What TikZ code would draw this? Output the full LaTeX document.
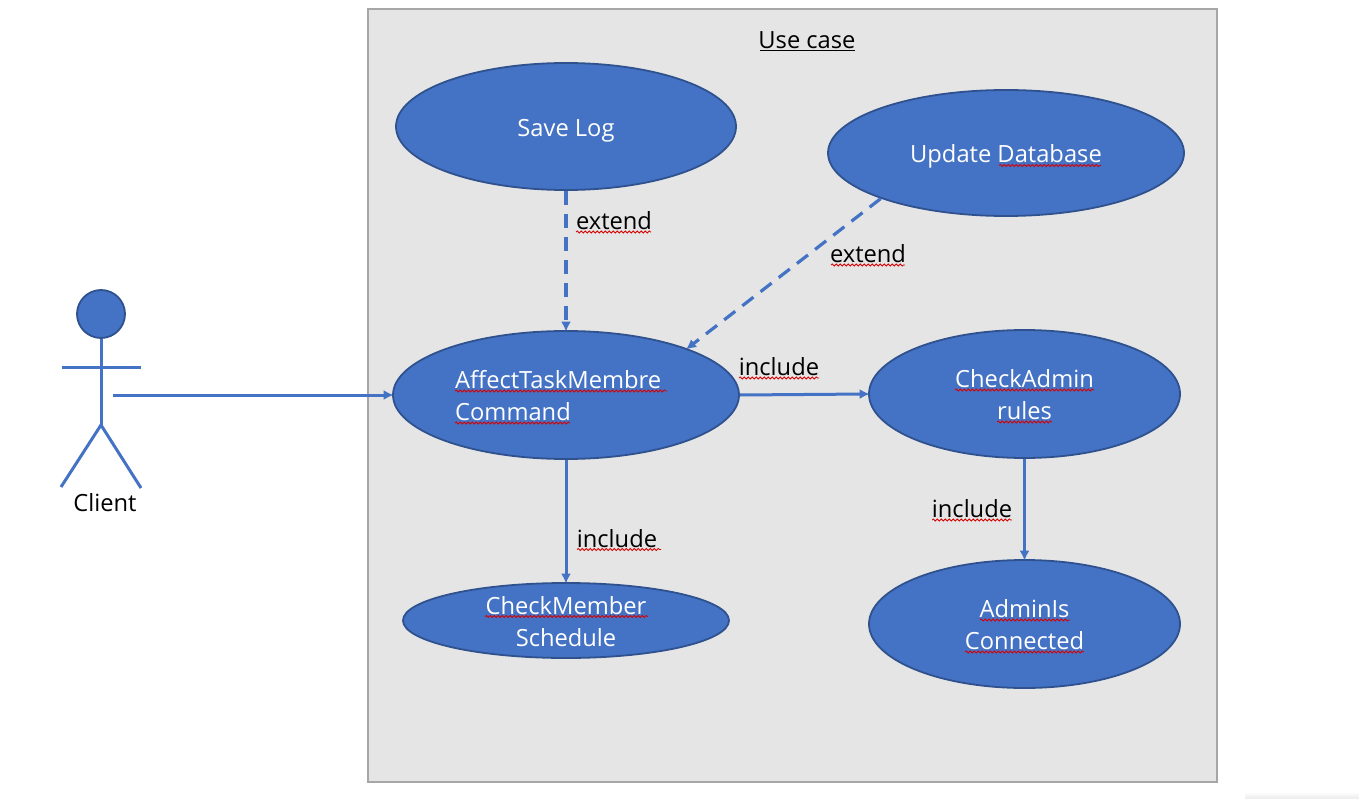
\documentclass[tikz,border=0pt]{standalone}
\usepackage{fontspec}
\setmainfont{Open Sans}
\usetikzlibrary{shapes.geometric,arrows.meta,decorations.pathmorphing}
\definecolor{ublue}{HTML}{4472C4}
\definecolor{uedge}{HTML}{2F528F}
\definecolor{upanel}{HTML}{E5E5E5}
\definecolor{uborder}{HTML}{A6A6A6}
\tikzset{
  usecase/.style={ellipse,draw=uedge,line width=1.8pt,fill=ublue,inner sep=0pt},
  inlabel/.style={text=white,font=\fontsize{23.7}{32}\selectfont,align=center,inner sep=0pt},
  lefttext/.style={inlabel,align=left},
  outlabel/.style={text=black,font=\fontsize{23.7}{32}\selectfont,inner sep=0pt},
  conn/.style={ublue,line width=3pt,shorten >=-1.5pt,-{Latex[length=10pt,width=10pt]}},
  dconn/.style={conn,line width=3.2pt,dash pattern=on 14pt off 9pt},
  limb/.style={ublue,line width=3pt},
  spell/.style={draw=red!85!black,line width=0.8pt,decorate,decoration={snake,amplitude=1pt,segment length=4pt}}
}
\begin{document}
\begin{tikzpicture}[x=1pt,y=-1pt]
\useasboundingbox (0,0) rectangle (1359,799);
\shade[top color=white,bottom color=black!8] (1245,792) rectangle (1359,799);
\node[draw=uborder,line width=2.2pt,fill=upanel,minimum width=849pt,minimum height=773pt,inner sep=0pt] (panel) at (792.5,395.5) {};
\node[outlabel] (uc) at (807,40) {Use case};
\draw[black,line width=1.8pt] (760,50.5) -- (855,50.5);
% use cases
\node[usecase,minimum width=340pt,minimum height=127pt] (save) at (566,126.5) {};
\node[usecase,minimum width=356pt,minimum height=126pt] (upd) at (1006,153) {};
\node[usecase,minimum width=346pt,minimum height=128pt] (aff) at (566,395) {};
\node[usecase,minimum width=311pt,minimum height=128pt] (adm) at (1024.5,394) {};
\node[usecase,minimum width=326pt,minimum height=75pt] (mem) at (566,620.5) {};
\node[usecase,minimum width=311pt,minimum height=128pt] (con) at (1024.5,624) {};
\node[inlabel] (savet) at (566,130.5) {Save Log};
\node[inlabel] (updt) at (1006,156) {Update Database};
\node[lefttext,anchor=west] (afft) at (455,396) {AffectTaskMembre\\Command};
\node[inlabel] (admt) at (1024.5,394.5) {CheckAdmin\\rules};
\node[inlabel] (memt) at (566,621.5) {CheckMember\\Schedule};
\node[inlabel] (cont) at (1024.5,625) {AdminIs\\Connected};
% actor
\node[circle,draw=uedge,line width=1.8pt,fill=ublue,minimum size=48pt,inner sep=0pt] (head) at (101,314) {};
\coordinate (hip) at (101,425);
\coordinate (arml) at (62,367);
\coordinate (armr) at (141,367);
\coordinate (legl) at (61,487);
\coordinate (legr) at (141,488);
\coordinate (hand) at (113,395);
\draw[limb] (head.south) -- (hip);
\draw[limb] (arml) -- (armr);
\draw[limb] (legl) -- (hip) -- (legr);
\node[outlabel] (client) at (105,503) {Client};
% connectors
\draw[conn] (hand) -- (aff.west);
\draw[dconn] (save.south) -- (aff.north);
\draw[dconn] (upd.200) -- (aff.21);
\draw[conn] (aff.east) -- (adm.west);
\draw[conn] (aff.south) -- (mem.north);
\draw[conn] (adm.south) -- (con.north);
% connector labels
\node[outlabel] (l1) at (614,221) {extend};
\node[outlabel] (l2) at (868,254) {extend};
\node[outlabel] (l3) at (779,367) {include};
\node[outlabel] (l4) at (617,539) {include};
\node[outlabel] (l5) at (972,509) {include};
% spelling marks
\draw[spell] (999,165.5) -- (1101,165.5);
\draw[spell] (576,232) -- (651,232);
\draw[spell] (831,265) -- (905,265);
\draw[spell] (739,378) -- (819,378);
\draw[spell] (577,549.5) -- (661,549.5);
\draw[spell] (932,520) -- (1012,520);
\draw[spell] (455,391) -- (667,391);
\draw[spell] (455,423) -- (570,423);
\draw[spell] (955,390) -- (1094,390);
\draw[spell] (997,422) -- (1052,422);
\draw[spell] (485,616.5) -- (648,616.5);
\draw[spell] (980,620) -- (1070,620);
\draw[spell] (965,652) -- (1084,652);
\end{tikzpicture}
\end{document}
